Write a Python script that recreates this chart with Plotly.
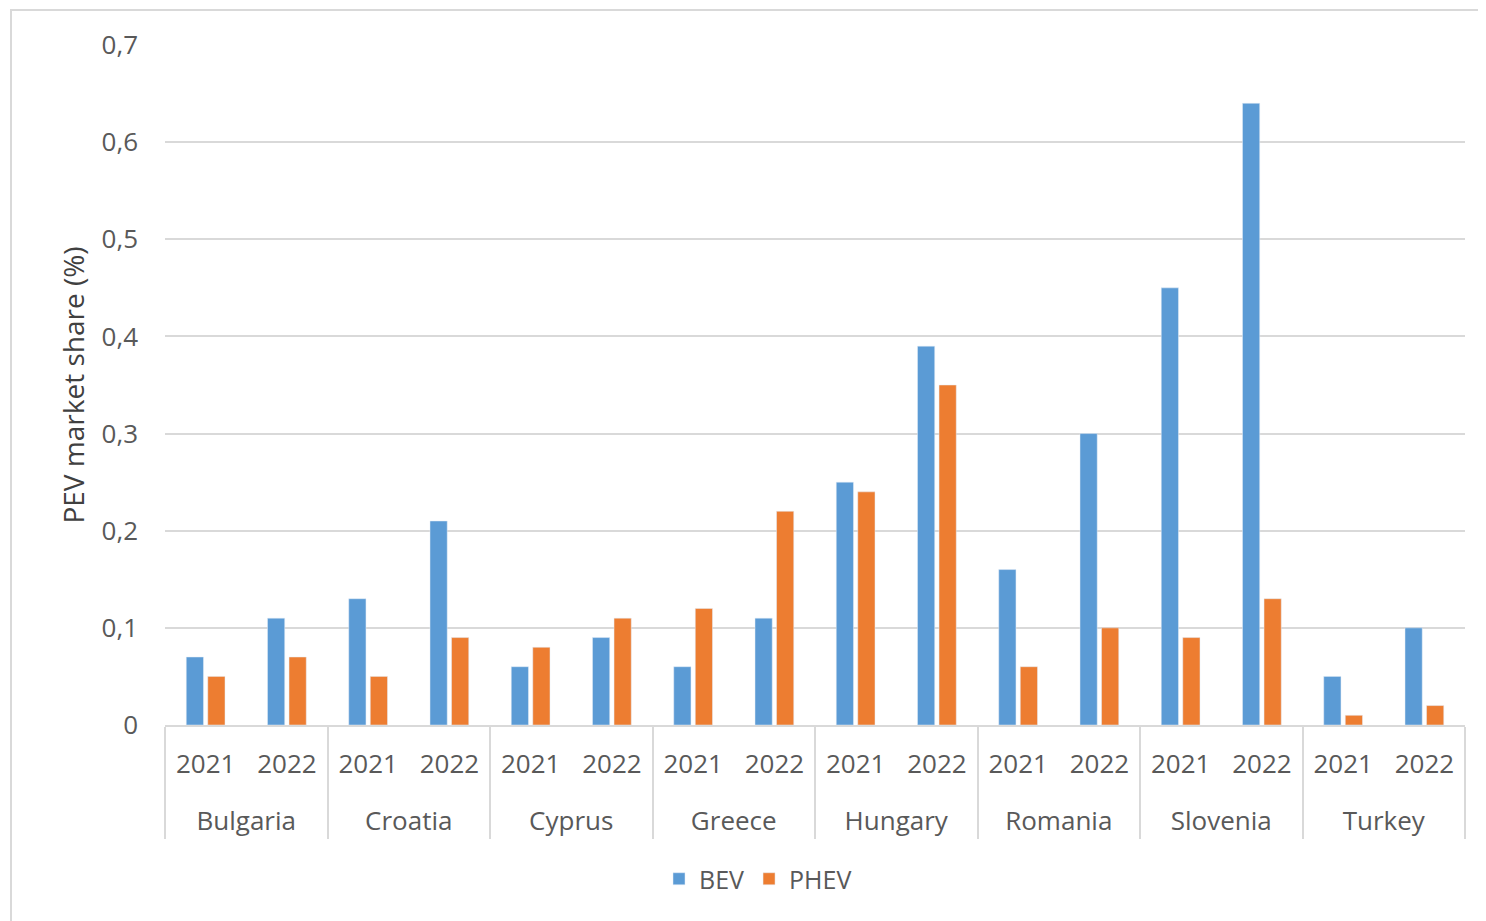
import plotly.graph_objects as go

countries = ["Bulgaria", "Croatia", "Cyprus", "Greece", "Hungary", "Romania", "Slovenia", "Turkey"]
years = ["2021", "2022"]
bev = [0.07, 0.11, 0.13, 0.21, 0.06, 0.09, 0.06, 0.11, 0.25, 0.39, 0.16, 0.30, 0.45, 0.64, 0.05, 0.10]
phev = [0.05, 0.07, 0.05, 0.09, 0.08, 0.11, 0.12, 0.22, 0.24, 0.35, 0.06, 0.10, 0.09, 0.13, 0.01, 0.02]
y_ticks = [0, 0.1, 0.2, 0.3, 0.4, 0.5, 0.6, 0.7]
y_ticktext = ["0", "0,1", "0,2", "0,3", "0,4", "0,5", "0,6", "0,7"]

outer = ["<br>" + c for c in countries for _ in years]
inner = [y for _ in countries for y in years]

FONT = "Open Sans"
GREY = "#595959"
LINE = "#D9D9D9"

fig = go.Figure()
fig.add_trace(go.Bar(x=[outer, inner], y=bev, name="BEV", marker_color="#5B9BD5"))
fig.add_trace(go.Bar(x=[outer, inner], y=phev, name="PHEV", marker_color="#ED7D31"))

W, H = 1478, 913
L, T, R, B = 157, 37, 21, 196
pw, ph = W - L - R, H - T - B

fig.update_layout(
    width=W, height=H,
    margin=dict(l=L, r=R, t=T, b=B),
    paper_bgcolor="white", plot_bgcolor="white",
    barmode="group", bargap=0.47, bargroupgap=0.2,
    font=dict(family=FONT, color=GREY, size=26),
    legend=dict(orientation="h", x=0.5 - 57 / pw, xanchor="center", y=-131 / ph, yanchor="top",
                font=dict(size=25, color=GREY), itemwidth=30, traceorder="normal"),
    yaxis=dict(range=[0, 0.7], tickvals=y_ticks, ticktext=y_ticktext,
               showgrid=True, gridcolor=LINE, gridwidth=2,
               zeroline=False, showline=False, ticks="",
               ticklabelstandoff=26,
               title=dict(text="PEV market share (%)", font=dict(size=28, color="#404040"), standoff=8),
               tickfont=dict(size=26, color=GREY)),
    xaxis=dict(type="multicategory", showline=True, linecolor=LINE, linewidth=2,
               showdividers=True, dividercolor=LINE, dividerwidth=2,
               ticks="", ticklabelstandoff=15, tickfont=dict(size=26, color=GREY)),
    shapes=[dict(type="rect", xref="paper", yref="paper",
                 x0=(3 - L) / pw, x1=(W + 20 - L) / pw,
                 y0=-(H + 20 - (T + ph)) / ph, y1=(T + ph - 2) / ph,
                 line=dict(color=LINE, width=2), fillcolor="rgba(0,0,0,0)", layer="below")],
)

fig.write_html("out.html")
